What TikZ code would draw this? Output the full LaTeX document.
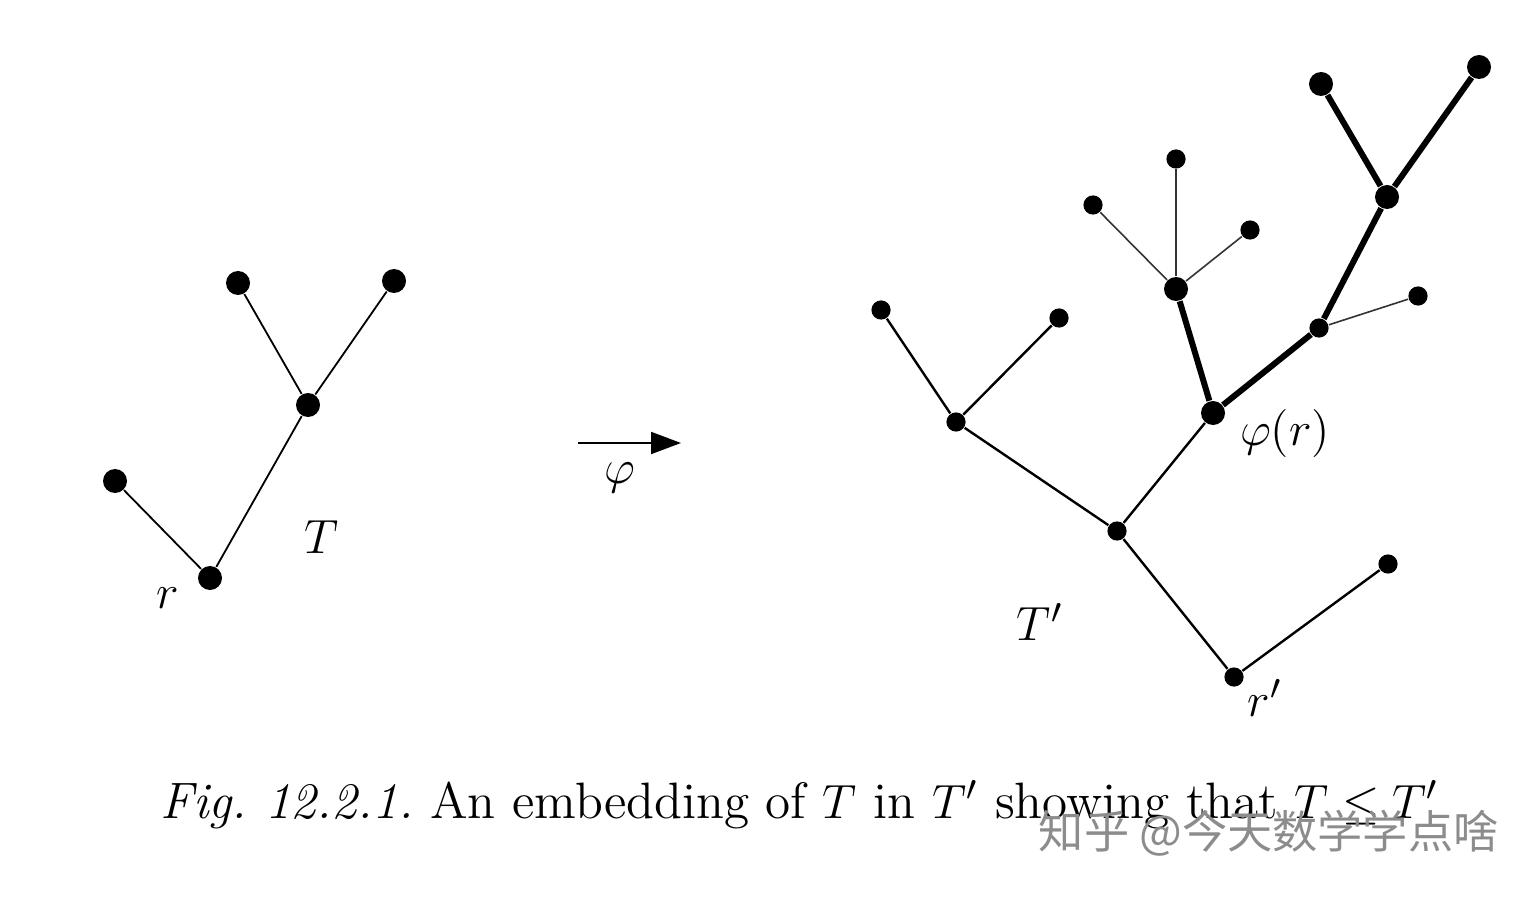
\documentclass[tikz,border=0pt]{standalone}
\usepackage{fontspec}
\newfontfamily\cjk{Noto Sans CJK SC}
\usetikzlibrary{arrows.meta}
\begin{document}
\begin{tikzpicture}[x=0.25pt,y=-0.25pt,
  bigdot/.style={circle,fill=black,inner sep=0pt,minimum size=6pt},
  smalldot/.style={circle,fill=black,inner sep=0pt,minimum size=4.8pt},
  thinedge/.style={line width=0.45pt},
  midedge/.style={line width=0.6pt},
  hairedge/.style={line width=0.4pt,black!80},
  thickedge/.style={line width=1.5pt},
  lbl/.style={inner sep=0pt,font=\fontsize{12.8}{15}\selectfont}]
\useasboundingbox (0,0) rectangle (1538,897);
% left tree T
\node[bigdot] (a1) at (238,283) {};
\node[bigdot] (a2) at (394,281) {};
\node[bigdot] (am) at (308,405) {};
\node[bigdot] (al) at (115,481) {};
\node[bigdot] (ar) at (210,578) {};
\draw[thinedge] (a1) -- (am) -- (a2);
\draw[thinedge] (am) -- (ar) -- (al);
\node[lbl] (lr) at (168,598) {$r$};
\node[lbl] (lT) at (322,537) {$T$};
% arrow phi
\coordinate (arrs) at (578,443);
\coordinate (arre) at (681,443);
\draw[line width=0.5pt,-{Triangle[length=7.5pt,width=5.5pt]}] (arrs) -- (arre);
\node[lbl] (lphi) at (620,478) {$\varphi$};
% right tree T'
\node[smalldot] (n1) at (881,310) {};
\node[smalldot] (n2) at (1059,318) {};
\node[smalldot] (n3) at (956,422) {};
\node[smalldot] (n4) at (1117,531) {};
\node[bigdot] (ph) at (1213,413) {};
\node[bigdot] (n5) at (1176,289) {};
\node[smalldot] (n6) at (1093,205) {};
\node[smalldot] (n7) at (1176,159) {};
\node[smalldot] (n8) at (1250,230) {};
\node[smalldot] (n9) at (1319,328) {};
\node[smalldot] (n10) at (1418,296) {};
\node[bigdot] (n11) at (1387,197) {};
\node[bigdot] (n12) at (1321,84) {};
\node[bigdot] (n13) at (1479,67) {};
\node[smalldot] (rp) at (1234,677) {};
\node[smalldot] (n14) at (1388,564) {};
\draw[midedge] (n1) -- (n3) -- (n2);
\draw[midedge] (n3) -- (n4) -- (ph);
\draw[midedge] (n4) -- (rp) -- (n14);
\draw[hairedge] (n5) -- (n6);
\draw[hairedge] (n5) -- (n7);
\draw[hairedge] (n5) -- (n8);
\draw[hairedge] (n9) -- (n10);
\draw[thickedge] (n5) -- (ph) -- (n9) -- (n11) -- (n12);
\draw[thickedge] (n11) -- (n13);
\node[lbl] (lphr) at (1285,433) {$\varphi(r)$};
\node[lbl] (lTp) at (1040,622) {$T'$};
\node[lbl] (lrp) at (1265,698) {$r'$};
% caption
\node[lbl,anchor=base west] (cap) at (160,818) {\textit{Fig.\ 12.2.1.}\ An embedding of $T$ in $T'$ showing that $T\leq T'$};
% watermark
\node[inner sep=0pt,anchor=west,text=black!45,font=\cjk\fontsize{11.3}{13}\selectfont] (wm) at (1038,833) {知乎 @今天数学学点啥};
\end{tikzpicture}
\end{document}
